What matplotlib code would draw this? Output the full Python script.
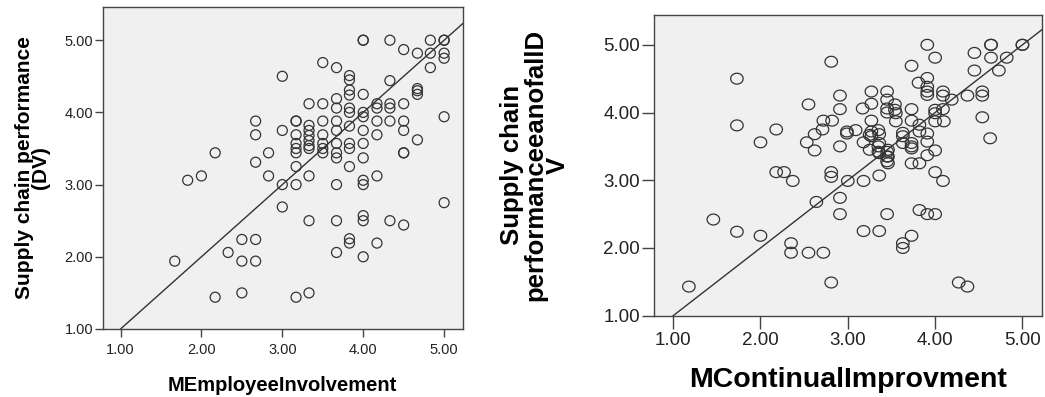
import numpy as np
import matplotlib
matplotlib.use("Agg")
import matplotlib.pyplot as plt
from matplotlib.path import Path

plt.rcParams['font.family'] = ['Liberation Sans', 'DejaVu Sans']

# left panel: MEmployeeInvolvement vs Supply chain performance (DV)
ei_x = [1.67, 1.83, 2.00, 2.17, 2.17, 2.33, 2.50, 2.50, 2.50,
        2.67, 2.67, 2.67, 2.67, 2.67, 2.83, 2.83,
        3.00, 3.00, 3.00, 3.00,
        3.17, 3.17, 3.17, 3.17, 3.17, 3.17, 3.17, 3.17, 3.17,
        3.33, 3.33, 3.33, 3.33, 3.33, 3.33, 3.33, 3.33, 3.33, 3.33,
        3.50, 3.50, 3.50, 3.50, 3.50, 3.50, 3.50,
        3.67, 3.67, 3.67, 3.67, 3.67, 3.67, 3.67, 3.67, 3.67, 3.67, 3.67,
        3.83, 3.83, 3.83, 3.83, 3.83, 3.83, 3.83, 3.83, 3.83, 3.83, 3.83, 3.83,
        4.00, 4.00, 4.00, 4.00, 4.00, 4.00, 4.00, 4.00, 4.00, 4.00, 4.00, 4.00, 4.00,
        4.17, 4.17, 4.17, 4.17, 4.17, 4.17,
        4.33, 4.33, 4.33, 4.33, 4.33, 4.33,
        4.50, 4.50, 4.50, 4.50, 4.50, 4.50, 4.50,
        4.67, 4.67, 4.67, 4.67, 4.67,
        4.83, 4.83, 4.83,
        5.00, 5.00, 5.00, 5.00, 5.00, 5.00]
ei_y = [1.94, 3.06, 3.12, 3.44, 1.44, 2.06, 2.24, 1.94, 1.50,
        3.88, 3.69, 3.31, 2.24, 1.94, 3.44, 3.12,
        4.50, 3.75, 3.00, 2.69,
        3.88, 3.88, 3.69, 3.57, 3.50, 3.44, 3.25, 3.00, 1.44,
        4.12, 3.82, 3.75, 3.68, 3.61, 3.54, 3.50, 3.12, 2.50, 1.50,
        4.69, 4.12, 3.88, 3.69, 3.57, 3.50, 3.44,
        4.62, 4.19, 4.06, 3.88, 3.75, 3.57, 3.44, 3.37, 3.00, 2.50, 2.06,
        4.51, 4.45, 4.31, 4.24, 4.06, 4.00, 3.81, 3.57, 3.50, 3.25, 2.25, 2.19,
        5.00, 5.00, 4.25, 4.00, 3.94, 3.75, 3.57, 3.37, 3.06, 3.00, 2.57, 2.50, 2.00,
        4.12, 4.06, 3.88, 3.69, 3.12, 2.19,
        5.00, 4.44, 4.12, 4.06, 3.88, 2.50,
        4.87, 4.12, 3.88, 3.75, 3.44, 3.44, 2.44,
        4.82, 4.33, 4.30, 4.25, 3.62,
        5.00, 4.82, 4.62,
        5.00, 5.00, 4.82, 4.75, 3.94, 2.75]
ei_fit = (0.0, 1.0)  # intercept, slope of the fit line

# right panel: MContinualImprovment vs Supply chain performanceeanofallDV
ci_x = [1.18, 1.46, 1.73, 1.73, 1.73, 2.00, 2.00, 2.18, 2.18, 2.27, 2.37,
        2.35, 2.35, 2.55, 2.72, 2.81, 2.55, 2.53, 2.62, 2.62, 2.72, 2.71,
        2.82, 2.81, 2.91, 2.91, 2.91, 2.81, 2.81, 2.64, 2.91, 2.91, 3.00,
        2.99, 2.99, 3.09, 3.17, 3.18, 3.18, 3.18, 3.27, 3.27, 3.27, 3.25,
        3.27, 3.27, 3.25, 3.36, 3.36, 3.36, 3.36, 3.36, 3.35, 3.35, 3.35,
        3.45, 3.45, 3.45, 3.45, 3.46, 3.46, 3.46, 3.45, 3.45, 3.45, 3.45,
        3.54, 3.54, 3.55, 3.55, 3.63, 3.63, 3.63, 3.63, 3.63,
        3.73, 3.73, 3.73, 3.73, 3.73, 3.73, 3.73, 3.73,
        3.82, 3.82, 3.82, 3.82, 3.81,
        3.91, 3.91, 3.91, 3.91, 3.91, 3.91, 3.91, 3.91, 3.91,
        4.00, 4.00, 4.00, 4.00, 4.00, 4.00, 4.00,
        4.09, 4.09, 4.09, 4.10, 4.09, 4.19, 4.27, 4.37, 4.37,
        4.45, 4.45, 4.54, 4.54, 4.54, 4.63, 4.64, 4.64, 4.64, 4.73, 4.82,
        5.00, 5.00]
ci_y = [1.43, 2.42, 4.50, 3.81, 2.24, 3.56, 2.18, 3.75, 3.12, 3.12, 2.99,
        2.07, 1.93, 1.93, 1.93, 1.49, 4.12, 3.56, 3.68, 3.44, 3.88, 3.75,
        3.88, 4.75, 4.25, 4.05, 3.50, 3.12, 3.05, 2.68, 2.74, 2.50, 2.99,
        3.72, 3.69, 3.74, 4.06, 2.99, 3.56, 2.25, 4.31, 4.13, 3.88, 3.67,
        3.72, 3.65, 3.45, 3.68, 3.55, 3.40, 3.07, 2.25, 3.74, 3.50, 3.42,
        4.31, 4.19, 4.06, 4.00, 3.45, 3.35, 3.25, 2.50, 3.42, 3.35, 3.28,
        4.12, 4.04, 3.99, 3.87, 3.70, 3.65, 3.55, 2.07, 2.00,
        4.69, 4.05, 3.88, 3.55, 3.50, 3.47, 3.25, 2.18,
        3.82, 3.72, 3.25, 2.56, 4.44,
        5.00, 4.51, 4.38, 4.31, 4.26, 3.69, 3.57, 3.37, 2.50,
        4.81, 4.04, 3.99, 3.87, 3.44, 3.12, 2.50,
        4.31, 4.25, 4.05, 3.87, 2.99, 4.19, 1.49, 1.43, 4.25,
        4.88, 4.62, 4.31, 4.25, 3.93, 3.62, 5.00, 5.00, 4.81, 4.62, 4.81,
        5.00, 5.00]
ci_fit = (0.0, 1.0)

ticks = [1.0, 2.0, 3.0, 4.0, 5.0]
tick_labels = ['1.00', '2.00', '3.00', '4.00', '5.00']

# slightly wide ellipse marker for the right panel
t = np.linspace(0, 2 * np.pi, 60)
ell = Path(np.column_stack([1.15 * np.cos(t), np.sin(t)]), closed=True)

fig = plt.figure(figsize=(10.45, 3.97), dpi=100)
ax1 = fig.add_axes([0.0983, 0.1713, 0.3445, 0.8111])
ax2 = fig.add_axes([0.6258, 0.2048, 0.3710, 0.7574])

def style(ax, xmax, ymax, fs, tl, pad):
    ax.set_facecolor('#f0f0f0')
    ax.set_xlim(0.78, xmax)
    ax.set_ylim(1.0, ymax)
    ax.set_xticks(ticks, tick_labels)
    ax.set_yticks(ticks, tick_labels)
    for s in ax.spines.values():
        s.set_color('#444444')
        s.set_linewidth(1.0)
    ax.tick_params(direction='out', length=tl, width=1.0, color='#444444',
                   labelsize=fs, labelcolor='#222222')
    ax.tick_params(axis='x', pad=pad)
    ax.tick_params(axis='y', pad=1)

ax1.scatter(ei_x, ei_y, s=7.2 ** 2, facecolors='none', edgecolors='#333333',
            linewidths=0.9, zorder=3)
ax1.axline((0, ei_fit[0]), slope=ei_fit[1], color='#333333', lw=1.0, zorder=2)
style(ax1, 5.23, 5.46, 10.5, 6, 4)
ax1.set_xlabel('MEmployeeInvolvement', fontsize=14.5, fontweight='bold', labelpad=14)
ax1.set_ylabel('Supply chain performance\n(DV)', fontsize=15, fontweight='bold',
               linespacing=0.85, labelpad=10)

ax2.scatter(ci_x, ci_y, s=9.0 ** 2, marker=ell, facecolors='none',
            edgecolors='#333333', linewidths=0.9, zorder=3)
ax2.axline((0, ci_fit[0]), slope=ci_fit[1], color='#333333', lw=1.0, zorder=2)
style(ax2, 5.22, 5.44, 13.5, 9, 3)
ax2.set_xlabel('MContinualImprovment', fontsize=20.5, fontweight='bold', labelpad=13)
ax2.set_ylabel('Supply chain\nperformanceeanofallD\nV', fontsize=18.5, fontweight='bold',
               linespacing=0.95, labelpad=24)

fig.savefig('out.png', dpi=100)
